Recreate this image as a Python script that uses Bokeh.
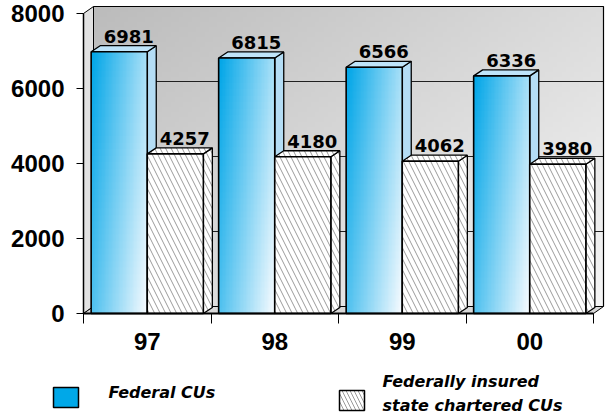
import numpy as np
from bokeh.plotting import figure
from bokeh.models import Range1d, FixedTicker, ColumnDataSource
from bokeh.embed import file_html
from bokeh.resources import INLINE
from bokeh.core.properties import value

# ---------------- data ----------------
years = ["97", "98", "99", "00"]
federal = [6981, 6815, 6566, 6336]
state = [4257, 4180, 4062, 3980]
y_ticks = [0, 2000, 4000, 6000, 8000]
series_names = ["Federal CUs", "Federally insured\nstate chartered CUs"]

# ---------------- layout / style ----------------
W, H = 605, 416
PX_X = 127.5          # pixels per category
PX_Y = 0.0375         # pixels per unit of value
LEFT = 83             # px from canvas left to x = 0
ZERO = 313            # px from canvas top to y = 0
DX, DY = 9 / PX_X, 6 / PX_Y          # bar depth
DXW, DYW = 10 / PX_X, 7 / PX_Y       # wall depth
BW = 0.44
Y_TOP = ZERO / PX_Y
WT = (ZERO - 6) / PX_Y
XN = len(years)
XWR = XN + DXW


def px_x(px):  # canvas px -> data x
    return (px - LEFT) / PX_X


def px_y(py):  # canvas px (from top) -> data y
    return (ZERO - py) / PX_Y


p = figure(width=W, height=H,
           x_range=Range1d(-LEFT / PX_X, (W - LEFT) / PX_X),
           y_range=Range1d(-(H - ZERO) / PX_Y, Y_TOP),
           output_backend="svg", toolbar_location=None,
           min_border=0, min_border_left=0, min_border_right=0,
           min_border_top=0, min_border_bottom=0)
p.outline_line_color = None
p.grid.visible = False
p.background_fill_color = "white"
p.border_fill_color = "white"


def grad_img(ny, nx, c0, c1, wx, wy):
    yy, xx = np.mgrid[0:ny, 0:nx]
    xn = xx / (nx - 1)
    yn = yy / (ny - 1)
    t = wx * xn + wy * (1 - yn)
    img = np.empty((ny, nx), dtype=np.uint32)
    v = img.view(dtype=np.uint8).reshape((ny, nx, 4))
    for i in range(3):
        v[:, :, i] = np.clip(c0[i] + (c1[i] - c0[i]) * t, 0, 255).astype(np.uint8)
    v[:, :, 3] = 255
    return img


# ---------------- walls ----------------
wall_img = grad_img(60, 120, (188, 188, 188), (246, 246, 246), 0.55, 0.45)
p.image_rgba(image=[wall_img], x=DXW, y=DYW, dw=XWR - DXW, dh=WT - DYW)

grid_levels = y_ticks[1:-1]
p.segment(x0=[DXW] * len(grid_levels), y0=[g + DYW for g in grid_levels],
          x1=[XWR] * len(grid_levels), y1=[g + DYW for g in grid_levels],
          line_color="#202020", line_width=1)

# left side wall
p.patch(x=[0, 0, DXW, DXW], y=[0, y_ticks[-1], WT, DYW],
        fill_color="#e2e2e2", line_color="black", line_width=1)
# floor
p.patch(x=[0, DXW, XWR, XN], y=[0, DYW, DYW, 0],
        fill_color="#d9d9d9", line_color="black", line_width=1)
# wall outline
p.line(x=[DXW, XWR, XWR], y=[WT, WT, DYW], line_color="black", line_width=1.2)

# ---------------- bars ----------------
cats = np.arange(XN) + 0.5
fed_l, fed_r = cats - BW, cats
st_l, st_r = cats, cats + BW


def side_faces(x1s, vals):
    return ([[x1, x1 + DX, x1 + DX, x1] for x1 in x1s],
            [[0, DY, v + DY, v] for v in vals])


def top_faces(x0s, x1s, vals):
    return ([[x0, x0 + DX, x1 + DX, x1] for x0, x1 in zip(x0s, x1s)],
            [[v, v + DY, v + DY, v] for v in vals])


# federal bars
xs, ys = side_faces(fed_r, federal)
p.patches(xs=xs, ys=ys, fill_color="#b4ddf5", line_color="black", line_width=1.3)
xs, ys = top_faces(fed_l, fed_r, federal)
p.patches(xs=xs, ys=ys, fill_color="#bfe4f9", line_color="black", line_width=1.3)
bar_img = grad_img(40, 40, (0, 166, 232), (246, 251, 255), 0.68, 0.32)
fed_src = ColumnDataSource(dict(image=[bar_img] * XN, x=list(fed_l), y=[0] * XN,
                                dw=[BW] * XN, dh=federal, top=federal,
                                left=list(fed_l), right=list(fed_r)))
p.image_rgba(image="image", x="x", y="y", dw="dw", dh="dh", source=fed_src)
p.quad(left="left", right="right", bottom=0, top="top", source=fed_src,
       fill_color=None, line_color="black", line_width=1.6)

# state chartered bars (hatched)
hatch = dict(fill_color="white", hatch_pattern="\\", hatch_color="#9a9a9a",
             hatch_weight=1, hatch_scale=11, line_color="black", line_width=1.3)
xs, ys = side_faces(st_r, state)
p.patches(xs=xs, ys=ys, **hatch)
xs, ys = top_faces(st_l, st_r, state)
p.patches(xs=xs, ys=ys, **hatch)
p.quad(left=st_l, right=st_r, bottom=0, top=state, **dict(hatch, line_width=1.6))

# front axis lines
p.segment(x0=[0, 0], y0=[0, 0], x1=[0, XN], y1=[y_ticks[-1], 0],
          line_color="black", line_width=[1.5, 2])

# value labels
lab_x = list(fed_l + BW / 2 + DX / 2 + 5 / PX_X) + list(st_l + BW / 2 + DX / 2 + 5 / PX_X)
lab_y = [v + DY + 3 / PX_Y for v in federal + state]
lab_t = [str(v) for v in federal + state]
p.text(x=lab_x, y=lab_y, text=lab_t, text_align="center", text_baseline="bottom",
       text_font=value("DejaVu Sans"), text_font_style="bold", text_font_size="18px",
       text_color="black")

# ---------------- axes ----------------
ya = p.yaxis[0]
ya.fixed_location = 0
ya.ticker = FixedTicker(ticks=y_ticks)
ya.axis_line_color = None
ya.major_tick_in = 0
ya.major_tick_out = 7
ya.major_tick_line_color = "black"
ya.minor_tick_line_color = None
ya.major_label_standoff = 12
ya.major_label_text_font = "Liberation Sans"
ya.major_label_text_font_style = "bold"
ya.major_label_text_font_size = "24px"
ya.major_label_text_color = "black"

xa = p.xaxis[0]
xa.fixed_location = 0
xa.ticker = FixedTicker(ticks=[float(c) for c in cats], minor_ticks=list(range(XN + 1)))
xa.major_label_overrides = {float(c): y for c, y in zip(cats, years)}
xa.axis_line_color = None
xa.major_tick_line_color = None
xa.major_tick_in = 0
xa.major_tick_out = 10
xa.minor_tick_in = 0
xa.minor_tick_out = 10
xa.minor_tick_line_color = "black"
xa.major_label_standoff = 9
xa.major_label_text_font = "Liberation Sans"
xa.major_label_text_font_style = "bold"
xa.major_label_text_font_size = "24px"
xa.major_label_text_color = "black"

# ---------------- legend ----------------
# swatches (canvas px boxes converted to data space)
p.quad(left=[px_x(53)], right=[px_x(78)], top=[px_y(387)], bottom=[px_y(407)],
       fill_color="#00a8e8", line_color="black", line_width=1.5)
p.quad(left=[px_x(339)], right=[px_x(364)], top=[px_y(390)], bottom=[px_y(410)],
       **dict(hatch, hatch_scale=8, line_width=1.5))
p.text(x=[px_x(108), px_x(382)], y=[px_y(392), px_y(393)], text=series_names,
       text_align="left", text_baseline="middle", text_line_height=1.3,
       text_font=value("DejaVu Sans"), text_font_style="bold italic",
       text_font_size="16px", text_color="black")

open("out.html", "w").write(file_html(p, INLINE))
